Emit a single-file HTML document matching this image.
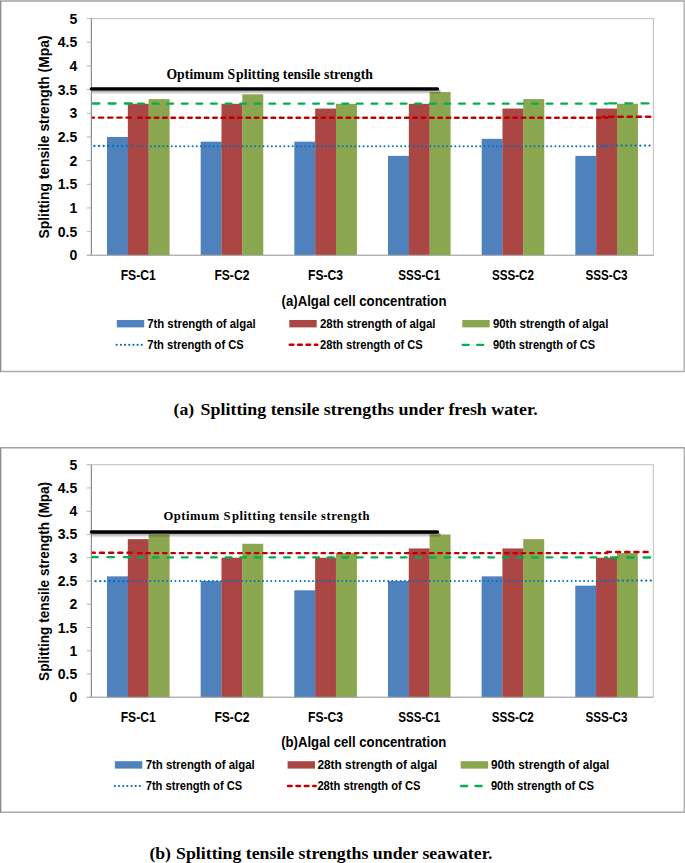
<!DOCTYPE html>
<html><head><meta charset="utf-8"><style>
html,body{margin:0;padding:0;background:#fff;}
body{width:685px;height:863px;overflow:hidden;font-family:"Liberation Sans",sans-serif;}
svg{display:block;}
</style></head><body>
<svg width="685" height="863" viewBox="0 0 685 863">
<defs><linearGradient id="shd" x1="0" y1="0" x2="0" y2="1"><stop offset="0" stop-color="#000" stop-opacity="0.45"/><stop offset="0.45" stop-color="#000" stop-opacity="0.22"/><stop offset="1" stop-color="#000" stop-opacity="0"/></linearGradient></defs>
<rect x="0" y="0" width="685" height="863" fill="#fff"/>
<line x1="0.0" y1="1.1" x2="684.8000000000001" y2="1.1" stroke="#a2a2a2" stroke-width="1.5"/>
<line x1="0.0" y1="371.5" x2="684.8000000000001" y2="371.5" stroke="#ababab" stroke-width="1.5"/>
<line x1="0.6" y1="1.1" x2="0.6" y2="371.5" stroke="#8a8a8a" stroke-width="1.4"/>
<line x1="684.2" y1="1.1" x2="684.2" y2="371.5" stroke="#b0b0b0" stroke-width="1.4"/>
<clipPath id="clip1"><rect x="91.9" y="18.6" width="561.0" height="236.70000000000002"/></clipPath>
<rect x="91.4" y="18.6" width="562.0" height="236.70000000000002" fill="#fff" stroke="#c4c4c4" stroke-width="1.1"/>
<rect x="107.01" y="136.95" width="20.96" height="118.35" fill="#4F81BD"/>
<rect x="127.83" y="103.81" width="20.96" height="151.49" fill="#AA4643"/>
<rect x="148.64" y="99.08" width="20.96" height="156.22" fill="#8AA64F"/>
<rect x="200.68" y="141.68" width="20.96" height="113.62" fill="#4F81BD"/>
<rect x="221.49" y="103.81" width="20.96" height="151.49" fill="#AA4643"/>
<rect x="242.31" y="94.34" width="20.96" height="160.96" fill="#8AA64F"/>
<rect x="294.34" y="141.68" width="20.96" height="113.62" fill="#4F81BD"/>
<rect x="315.16" y="108.55" width="20.96" height="146.75" fill="#AA4643"/>
<rect x="335.97" y="103.81" width="20.96" height="151.49" fill="#8AA64F"/>
<rect x="388.01" y="155.89" width="20.96" height="99.41" fill="#4F81BD"/>
<rect x="408.83" y="103.81" width="20.96" height="151.49" fill="#AA4643"/>
<rect x="429.64" y="91.98" width="20.96" height="163.32" fill="#8AA64F"/>
<rect x="481.68" y="138.84" width="20.96" height="116.46" fill="#4F81BD"/>
<rect x="502.49" y="108.55" width="20.96" height="146.75" fill="#AA4643"/>
<rect x="523.31" y="99.08" width="20.96" height="156.22" fill="#8AA64F"/>
<rect x="575.34" y="155.89" width="20.96" height="99.41" fill="#4F81BD"/>
<rect x="596.16" y="108.55" width="20.96" height="146.75" fill="#AA4643"/>
<rect x="616.97" y="103.81" width="20.96" height="151.49" fill="#8AA64F"/>
<line x1="91.4" y1="18.6" x2="91.4" y2="255.3" stroke="#8c8c8c" stroke-width="1.1"/>
<line x1="86.80000000000001" y1="255.3" x2="653.4" y2="255.3" stroke="#a8a8a8" stroke-width="1.1"/>
<line x1="86.80000000000001" y1="255.30" x2="91.4" y2="255.30" stroke="#b4b4b4" stroke-width="1"/>
<text x="77.3" y="260.30" text-anchor="end" font-family="Liberation Sans" font-weight="bold" font-size="14">0</text>
<line x1="86.80000000000001" y1="231.63" x2="91.4" y2="231.63" stroke="#b4b4b4" stroke-width="1"/>
<text x="77.3" y="236.63" text-anchor="end" font-family="Liberation Sans" font-weight="bold" font-size="14">0.5</text>
<line x1="86.80000000000001" y1="207.96" x2="91.4" y2="207.96" stroke="#b4b4b4" stroke-width="1"/>
<text x="77.3" y="212.96" text-anchor="end" font-family="Liberation Sans" font-weight="bold" font-size="14">1</text>
<line x1="86.80000000000001" y1="184.29" x2="91.4" y2="184.29" stroke="#b4b4b4" stroke-width="1"/>
<text x="77.3" y="189.29" text-anchor="end" font-family="Liberation Sans" font-weight="bold" font-size="14">1.5</text>
<line x1="86.80000000000001" y1="160.62" x2="91.4" y2="160.62" stroke="#b4b4b4" stroke-width="1"/>
<text x="77.3" y="165.62" text-anchor="end" font-family="Liberation Sans" font-weight="bold" font-size="14">2</text>
<line x1="86.80000000000001" y1="136.95" x2="91.4" y2="136.95" stroke="#b4b4b4" stroke-width="1"/>
<text x="77.3" y="141.95" text-anchor="end" font-family="Liberation Sans" font-weight="bold" font-size="14">2.5</text>
<line x1="86.80000000000001" y1="113.28" x2="91.4" y2="113.28" stroke="#b4b4b4" stroke-width="1"/>
<text x="77.3" y="118.28" text-anchor="end" font-family="Liberation Sans" font-weight="bold" font-size="14">3</text>
<line x1="86.80000000000001" y1="89.61" x2="91.4" y2="89.61" stroke="#b4b4b4" stroke-width="1"/>
<text x="77.3" y="94.61" text-anchor="end" font-family="Liberation Sans" font-weight="bold" font-size="14">3.5</text>
<line x1="86.80000000000001" y1="65.94" x2="91.4" y2="65.94" stroke="#b4b4b4" stroke-width="1"/>
<text x="77.3" y="70.94" text-anchor="end" font-family="Liberation Sans" font-weight="bold" font-size="14">4</text>
<line x1="86.80000000000001" y1="42.27" x2="91.4" y2="42.27" stroke="#b4b4b4" stroke-width="1"/>
<text x="77.3" y="47.27" text-anchor="end" font-family="Liberation Sans" font-weight="bold" font-size="14">4.5</text>
<line x1="86.80000000000001" y1="18.60" x2="91.4" y2="18.60" stroke="#b4b4b4" stroke-width="1"/>
<text x="77.3" y="23.60" text-anchor="end" font-family="Liberation Sans" font-weight="bold" font-size="14">5</text>
<rect x="91.9" y="90.0" width="348.6" height="4.6" fill="url(#shd)"/>
<line x1="91.4" y1="88.8" x2="437.5" y2="88.8" stroke="#000" stroke-width="3.3" stroke-linecap="round"/>
<g clip-path="url(#clip1)">
<line x1="91.70" y1="103.50" x2="135.23" y2="103.50" stroke="#00B050" stroke-width="2.3" stroke-linecap="round" stroke-dasharray="6.90 9.30" stroke-dashoffset="15.45"/>
<line x1="137.63" y1="103.70" x2="607.17" y2="103.70" stroke="#00B050" stroke-width="2.3" stroke-linecap="round" stroke-dasharray="5.70 8.89" stroke-dashoffset="14.07"/>
<line x1="603.07" y1="103.40" x2="652.20" y2="103.40" stroke="#00B050" stroke-width="2.3" stroke-linecap="round" stroke-dasharray="6.90 9.30" stroke-dashoffset="10.12"/>
<line x1="91.70" y1="117.60" x2="135.23" y2="117.60" stroke="#C00000" stroke-width="2.4" stroke-linecap="round" stroke-dasharray="4.30 4.90" stroke-dashoffset="2.00"/>
<line x1="137.63" y1="117.70" x2="607.17" y2="117.70" stroke="#C00000" stroke-width="2.4" stroke-linecap="round" stroke-dasharray="3.60 4.74" stroke-dashoffset="7.87"/>
<line x1="603.07" y1="116.80" x2="652.20" y2="116.80" stroke="#C00000" stroke-width="2.4" stroke-linecap="round" stroke-dasharray="4.30 4.90" stroke-dashoffset="3.07"/>
<line x1="91.70" y1="146.00" x2="135.23" y2="146.00" stroke="#0070C0" stroke-width="2.3" stroke-linecap="round" stroke-dasharray="0.01 4.63" stroke-dashoffset="1.94"/>
<line x1="137.63" y1="146.30" x2="607.17" y2="146.30" stroke="#0070C0" stroke-width="1.95" stroke-linecap="round" stroke-dasharray="0.01 4.16" stroke-dashoffset="3.39"/>
<line x1="603.07" y1="145.60" x2="652.20" y2="145.60" stroke="#0070C0" stroke-width="2.3" stroke-linecap="round" stroke-dasharray="0.01 4.63" stroke-dashoffset="4.55"/>
</g>
<text x="166.4" y="78.7" font-family="Liberation Serif" font-weight="bold" font-size="13.7" textLength="206.5" lengthAdjust="spacing">Optimum S<tspan dx="1">plitting tensile strength</tspan></text>
<text transform="translate(49.3,137.0) rotate(-90)" text-anchor="middle" font-family="Liberation Sans" font-weight="bold" font-size="13.8" textLength="203.0" lengthAdjust="spacingAndGlyphs">Splitting tensile strength (Mpa)</text>
<text x="138.23" y="280.2" text-anchor="middle" font-family="Liberation Sans" font-weight="bold" font-size="14.4" textLength="35.0" lengthAdjust="spacingAndGlyphs">FS-C1</text>
<text x="231.90" y="280.2" text-anchor="middle" font-family="Liberation Sans" font-weight="bold" font-size="14.4" textLength="35.0" lengthAdjust="spacingAndGlyphs">FS-C2</text>
<text x="325.57" y="280.2" text-anchor="middle" font-family="Liberation Sans" font-weight="bold" font-size="14.4" textLength="35.0" lengthAdjust="spacingAndGlyphs">FS-C3</text>
<text x="419.23" y="280.2" text-anchor="middle" font-family="Liberation Sans" font-weight="bold" font-size="14.4" textLength="42.0" lengthAdjust="spacingAndGlyphs">SSS-C1</text>
<text x="512.90" y="280.2" text-anchor="middle" font-family="Liberation Sans" font-weight="bold" font-size="14.4" textLength="42.0" lengthAdjust="spacingAndGlyphs">SSS-C2</text>
<text x="606.57" y="280.2" text-anchor="middle" font-family="Liberation Sans" font-weight="bold" font-size="14.4" textLength="42.0" lengthAdjust="spacingAndGlyphs">SSS-C3</text>
<text x="281.5" y="305.6" font-family="Liberation Sans" font-weight="bold" font-size="14.2" textLength="165.0" lengthAdjust="spacingAndGlyphs">(a)Algal cell concentration</text>
<rect x="116.8" y="320.0" width="27.4" height="7.4" fill="#4F81BD"/>
<text x="147.2" y="327.6" font-family="Liberation Sans" font-weight="bold" font-size="12" textLength="108.5" lengthAdjust="spacingAndGlyphs">7th strength of algal</text>
<line x1="116.70" y1="344.8" x2="141.79" y2="344.8" stroke="#0070C0" stroke-width="2.2" stroke-linecap="round" stroke-dasharray="0.01 4.17"/>
<text x="147.2" y="349.0" font-family="Liberation Sans" font-weight="bold" font-size="12" textLength="96.5" lengthAdjust="spacingAndGlyphs">7th strength of CS</text>
<rect x="289.3" y="320.0" width="27.4" height="7.4" fill="#AA4643"/>
<text x="320.0" y="327.6" font-family="Liberation Sans" font-weight="bold" font-size="12" textLength="115.5" lengthAdjust="spacingAndGlyphs">28th strength of algal</text>
<line x1="289.70" y1="344.8" x2="317.40" y2="344.8" stroke="#C00000" stroke-width="2.4" stroke-linecap="round" stroke-dasharray="3.7 4.7"/>
<text x="320.0" y="349.0" font-family="Liberation Sans" font-weight="bold" font-size="12" textLength="102.8" lengthAdjust="spacingAndGlyphs">28th strength of CS</text>
<rect x="462.3" y="320.0" width="27.4" height="7.4" fill="#8AA64F"/>
<text x="492.9" y="327.6" font-family="Liberation Sans" font-weight="bold" font-size="12" textLength="115.5" lengthAdjust="spacingAndGlyphs">90th strength of algal</text>
<line x1="462.65" y1="344.8" x2="483.25" y2="344.8" stroke="#00B050" stroke-width="2.3" stroke-linecap="round" stroke-dasharray="6.1 8.4"/>
<text x="492.9" y="349.0" font-family="Liberation Sans" font-weight="bold" font-size="12" textLength="102.2" lengthAdjust="spacingAndGlyphs">90th strength of CS</text>
<line x1="0.0" y1="447.8" x2="684.9" y2="447.8" stroke="#a2a2a2" stroke-width="1.5"/>
<line x1="0.0" y1="812.3" x2="684.9" y2="812.3" stroke="#ababab" stroke-width="1.5"/>
<line x1="0.6" y1="447.8" x2="0.6" y2="812.3" stroke="#8a8a8a" stroke-width="1.4"/>
<line x1="684.3" y1="447.8" x2="684.3" y2="812.3" stroke="#b0b0b0" stroke-width="1.4"/>
<clipPath id="clip2"><rect x="91.9" y="464.7" width="560.9" height="232.59999999999997"/></clipPath>
<rect x="91.4" y="464.7" width="561.9" height="232.59999999999997" fill="#fff" stroke="#c4c4c4" stroke-width="1.1"/>
<rect x="107.01" y="576.35" width="20.96" height="120.95" fill="#4F81BD"/>
<rect x="127.82" y="539.13" width="20.96" height="158.17" fill="#AA4643"/>
<rect x="148.63" y="534.48" width="20.96" height="162.82" fill="#8AA64F"/>
<rect x="200.66" y="581.00" width="20.96" height="116.30" fill="#4F81BD"/>
<rect x="221.47" y="557.74" width="20.96" height="139.56" fill="#AA4643"/>
<rect x="242.28" y="543.78" width="20.96" height="153.52" fill="#8AA64F"/>
<rect x="294.31" y="590.30" width="20.96" height="107.00" fill="#4F81BD"/>
<rect x="315.12" y="557.74" width="20.96" height="139.56" fill="#AA4643"/>
<rect x="335.93" y="553.09" width="20.96" height="144.21" fill="#8AA64F"/>
<rect x="387.96" y="581.00" width="20.96" height="116.30" fill="#4F81BD"/>
<rect x="408.77" y="548.44" width="20.96" height="148.86" fill="#AA4643"/>
<rect x="429.58" y="534.48" width="20.96" height="162.82" fill="#8AA64F"/>
<rect x="481.61" y="576.35" width="20.96" height="120.95" fill="#4F81BD"/>
<rect x="502.42" y="548.44" width="20.96" height="148.86" fill="#AA4643"/>
<rect x="523.23" y="539.13" width="20.96" height="158.17" fill="#8AA64F"/>
<rect x="575.26" y="585.65" width="20.96" height="111.65" fill="#4F81BD"/>
<rect x="596.07" y="557.74" width="20.96" height="139.56" fill="#AA4643"/>
<rect x="616.88" y="553.09" width="20.96" height="144.21" fill="#8AA64F"/>
<line x1="91.4" y1="464.7" x2="91.4" y2="697.3" stroke="#8c8c8c" stroke-width="1.1"/>
<line x1="86.80000000000001" y1="697.3" x2="653.3" y2="697.3" stroke="#a8a8a8" stroke-width="1.1"/>
<line x1="86.80000000000001" y1="697.30" x2="91.4" y2="697.30" stroke="#b4b4b4" stroke-width="1"/>
<text x="77.3" y="702.30" text-anchor="end" font-family="Liberation Sans" font-weight="bold" font-size="14">0</text>
<line x1="86.80000000000001" y1="674.04" x2="91.4" y2="674.04" stroke="#b4b4b4" stroke-width="1"/>
<text x="77.3" y="679.04" text-anchor="end" font-family="Liberation Sans" font-weight="bold" font-size="14">0.5</text>
<line x1="86.80000000000001" y1="650.78" x2="91.4" y2="650.78" stroke="#b4b4b4" stroke-width="1"/>
<text x="77.3" y="655.78" text-anchor="end" font-family="Liberation Sans" font-weight="bold" font-size="14">1</text>
<line x1="86.80000000000001" y1="627.52" x2="91.4" y2="627.52" stroke="#b4b4b4" stroke-width="1"/>
<text x="77.3" y="632.52" text-anchor="end" font-family="Liberation Sans" font-weight="bold" font-size="14">1.5</text>
<line x1="86.80000000000001" y1="604.26" x2="91.4" y2="604.26" stroke="#b4b4b4" stroke-width="1"/>
<text x="77.3" y="609.26" text-anchor="end" font-family="Liberation Sans" font-weight="bold" font-size="14">2</text>
<line x1="86.80000000000001" y1="581.00" x2="91.4" y2="581.00" stroke="#b4b4b4" stroke-width="1"/>
<text x="77.3" y="586.00" text-anchor="end" font-family="Liberation Sans" font-weight="bold" font-size="14">2.5</text>
<line x1="86.80000000000001" y1="557.74" x2="91.4" y2="557.74" stroke="#b4b4b4" stroke-width="1"/>
<text x="77.3" y="562.74" text-anchor="end" font-family="Liberation Sans" font-weight="bold" font-size="14">3</text>
<line x1="86.80000000000001" y1="534.48" x2="91.4" y2="534.48" stroke="#b4b4b4" stroke-width="1"/>
<text x="77.3" y="539.48" text-anchor="end" font-family="Liberation Sans" font-weight="bold" font-size="14">3.5</text>
<line x1="86.80000000000001" y1="511.22" x2="91.4" y2="511.22" stroke="#b4b4b4" stroke-width="1"/>
<text x="77.3" y="516.22" text-anchor="end" font-family="Liberation Sans" font-weight="bold" font-size="14">4</text>
<line x1="86.80000000000001" y1="487.96" x2="91.4" y2="487.96" stroke="#b4b4b4" stroke-width="1"/>
<text x="77.3" y="492.96" text-anchor="end" font-family="Liberation Sans" font-weight="bold" font-size="14">4.5</text>
<line x1="86.80000000000001" y1="464.70" x2="91.4" y2="464.70" stroke="#b4b4b4" stroke-width="1"/>
<text x="77.3" y="469.70" text-anchor="end" font-family="Liberation Sans" font-weight="bold" font-size="14">5</text>
<rect x="91.9" y="533.2" width="348.6" height="4.6" fill="url(#shd)"/>
<line x1="91.4" y1="532.0" x2="437.5" y2="532.0" stroke="#000" stroke-width="3.3" stroke-linecap="round"/>
<g clip-path="url(#clip2)">
<line x1="91.70" y1="557.10" x2="135.22" y2="557.10" stroke="#00B050" stroke-width="2.3" stroke-linecap="round" stroke-dasharray="6.60 9.70" stroke-dashoffset="0.55"/>
<line x1="137.62" y1="557.40" x2="607.07" y2="557.40" stroke="#00B050" stroke-width="2.3" stroke-linecap="round" stroke-dasharray="5.70 8.89" stroke-dashoffset="14.06"/>
<line x1="602.97" y1="557.50" x2="652.10" y2="557.50" stroke="#00B050" stroke-width="2.3" stroke-linecap="round" stroke-dasharray="6.60 9.70" stroke-dashoffset="8.32"/>
<line x1="91.70" y1="552.80" x2="135.22" y2="552.80" stroke="#C00000" stroke-width="2.4" stroke-linecap="round" stroke-dasharray="4.10 5.10" stroke-dashoffset="1.00"/>
<line x1="137.62" y1="553.10" x2="607.07" y2="553.10" stroke="#C00000" stroke-width="2.4" stroke-linecap="round" stroke-dasharray="3.40 4.94" stroke-dashoffset="7.86"/>
<line x1="602.97" y1="552.00" x2="652.10" y2="552.00" stroke="#C00000" stroke-width="2.4" stroke-linecap="round" stroke-dasharray="4.10 5.10" stroke-dashoffset="5.37"/>
<line x1="91.70" y1="581.20" x2="135.22" y2="581.20" stroke="#0070C0" stroke-width="2.3" stroke-linecap="round" stroke-dasharray="0.01 4.61" stroke-dashoffset="0.72"/>
<line x1="137.62" y1="580.90" x2="607.07" y2="580.90" stroke="#0070C0" stroke-width="1.95" stroke-linecap="round" stroke-dasharray="0.01 4.16" stroke-dashoffset="3.88"/>
<line x1="602.97" y1="580.60" x2="652.10" y2="580.60" stroke="#0070C0" stroke-width="2.3" stroke-linecap="round" stroke-dasharray="0.01 4.61" stroke-dashoffset="3.01"/>
</g>
<text x="163.4" y="519.6" font-family="Liberation Serif" font-weight="bold" font-size="12.6" textLength="206.0" lengthAdjust="spacing">Optimum S<tspan dx="1">plitting tensile strength</tspan></text>
<text transform="translate(49.3,581.4) rotate(-90)" text-anchor="middle" font-family="Liberation Sans" font-weight="bold" font-size="13.8" textLength="199.0" lengthAdjust="spacingAndGlyphs">Splitting tensile strength (Mpa)</text>
<text x="138.22" y="721.5" text-anchor="middle" font-family="Liberation Sans" font-weight="bold" font-size="14.4" textLength="35.0" lengthAdjust="spacingAndGlyphs">FS-C1</text>
<text x="231.88" y="721.5" text-anchor="middle" font-family="Liberation Sans" font-weight="bold" font-size="14.4" textLength="35.0" lengthAdjust="spacingAndGlyphs">FS-C2</text>
<text x="325.52" y="721.5" text-anchor="middle" font-family="Liberation Sans" font-weight="bold" font-size="14.4" textLength="35.0" lengthAdjust="spacingAndGlyphs">FS-C3</text>
<text x="419.17" y="721.5" text-anchor="middle" font-family="Liberation Sans" font-weight="bold" font-size="14.4" textLength="42.0" lengthAdjust="spacingAndGlyphs">SSS-C1</text>
<text x="512.82" y="721.5" text-anchor="middle" font-family="Liberation Sans" font-weight="bold" font-size="14.4" textLength="42.0" lengthAdjust="spacingAndGlyphs">SSS-C2</text>
<text x="606.47" y="721.5" text-anchor="middle" font-family="Liberation Sans" font-weight="bold" font-size="14.4" textLength="42.0" lengthAdjust="spacingAndGlyphs">SSS-C3</text>
<text x="281.2" y="746.9" font-family="Liberation Sans" font-weight="bold" font-size="14.2" textLength="165.0" lengthAdjust="spacingAndGlyphs">(b)Algal cell concentration</text>
<rect x="114.9" y="761.1999999999999" width="27.4" height="7.4" fill="#4F81BD"/>
<text x="145.7" y="768.8" font-family="Liberation Sans" font-weight="bold" font-size="12" textLength="109.0" lengthAdjust="spacingAndGlyphs">7th strength of algal</text>
<line x1="114.80" y1="786.0" x2="139.89" y2="786.0" stroke="#0070C0" stroke-width="2.2" stroke-linecap="round" stroke-dasharray="0.01 4.17"/>
<text x="145.7" y="790.2" font-family="Liberation Sans" font-weight="bold" font-size="12" textLength="96.5" lengthAdjust="spacingAndGlyphs">7th strength of CS</text>
<rect x="287.6" y="761.1999999999999" width="27.4" height="7.4" fill="#AA4643"/>
<text x="317.4" y="768.8" font-family="Liberation Sans" font-weight="bold" font-size="12" textLength="120.0" lengthAdjust="spacingAndGlyphs">28th strength of  algal</text>
<line x1="288.00" y1="786.0" x2="315.70" y2="786.0" stroke="#C00000" stroke-width="2.4" stroke-linecap="round" stroke-dasharray="3.7 4.7"/>
<text x="317.4" y="790.2" font-family="Liberation Sans" font-weight="bold" font-size="12" textLength="103.0" lengthAdjust="spacingAndGlyphs">28th strength of CS</text>
<rect x="460.7" y="761.1999999999999" width="27.4" height="7.4" fill="#8AA64F"/>
<text x="490.9" y="768.8" font-family="Liberation Sans" font-weight="bold" font-size="12" textLength="118.5" lengthAdjust="spacingAndGlyphs">90th strength of  algal</text>
<line x1="461.05" y1="786.0" x2="481.65" y2="786.0" stroke="#00B050" stroke-width="2.3" stroke-linecap="round" stroke-dasharray="6.1 8.4"/>
<text x="490.9" y="790.2" font-family="Liberation Sans" font-weight="bold" font-size="12" textLength="103.0" lengthAdjust="spacingAndGlyphs">90th strength of CS</text>
<text x="173.6" y="414.6" font-family="Liberation Serif" font-weight="bold" font-size="17.7">(a)</text>
<text x="200.6" y="414.6" font-family="Liberation Serif" font-weight="bold" font-size="17.7" textLength="337.2" lengthAdjust="spacingAndGlyphs">Splitting tensile strengths under fresh water.</text>
<text x="149.4" y="858.9" font-family="Liberation Serif" font-weight="bold" font-size="17.7">(b)</text>
<text x="176.1" y="858.9" font-family="Liberation Serif" font-weight="bold" font-size="17.7" textLength="316.3" lengthAdjust="spacingAndGlyphs">Splitting tensile strengths under seawater.</text>
</svg>
</body></html>
